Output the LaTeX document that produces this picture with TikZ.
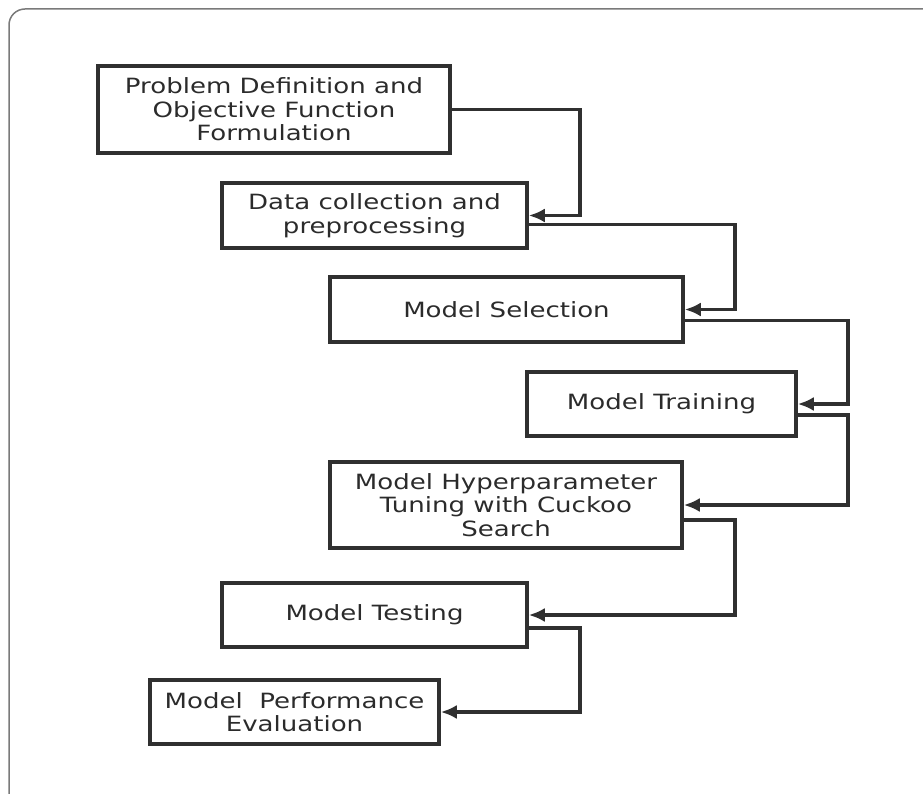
\documentclass[tikz,border=0pt]{standalone}
\usepackage{fontspec}
\setmainfont{DejaVu Sans}[FakeStretch=1.24]
\usepackage{tikz}
\usetikzlibrary{arrows.meta,positioning}
\definecolor{ink}{HTML}{303030}
\definecolor{framegray}{HTML}{7A7A7A}
\tikzstyle{stepbox} = [rectangle, draw=ink, line width=3.5pt, text=ink!90!black, text centered, align=center, inner sep=0pt, font=\fontsize{21}{23.5}\selectfont]
\tikzstyle{arrow} = [draw=ink, line width=3.5pt, -{Latex[length=16pt,width=14pt]}]

\begin{document}
\begin{tikzpicture}[x=1pt, y=-1pt]
                        \useasboundingbox (0,0) rectangle (923,794);
                        \begin{scope}
                        \clip (0,0) rectangle (923,794);
                        \draw[framegray, line width=1.5pt, rounded corners=16pt] (9,9) rectangle (945,815);
                        \end{scope}
                        % boxes
                        \node (prob) [stepbox, minimum width=352pt, minimum height=87pt] at (274,109.5) {Problem Definition and\\Objective Function\\Formulation};
                        \node (data) [stepbox, minimum width=305pt, minimum height=65pt] at (374.5,215.5) {Data collection and\\preprocessing};
                        \node (select) [stepbox, minimum width=353pt, minimum height=65pt] at (506.5,309.5) {Model Selection};
                        \node (train) [stepbox, minimum width=269pt, minimum height=64pt] at (661.5,404) {Model Training};
                        \node (tune) [stepbox, minimum width=352pt, minimum height=86pt] at (506,505) {Model Hyperparameter\\Tuning with Cuckoo\\Search};
                        \node (test) [stepbox, minimum width=305pt, minimum height=64pt] at (374.5,615) {Model Testing};
                        \node (eval) [stepbox, minimum width=289pt, minimum height=64pt] at (294.5,712) {Model~~Performance\\Evaluation};
                        % lanes and exit points
                        \coordinate (laneA) at (580,0);
                        \coordinate (laneB) at (735,0);
                        \coordinate (laneC) at (848,0);
                        \coordinate (dataout) at ([yshift=-9pt]data.east);
                        \coordinate (selectout) at ([yshift=-11pt]select.east);
                        \coordinate (trainout) at ([yshift=-11pt]train.east);
                        \coordinate (tuneout) at ([yshift=-15pt]tune.east);
                        \coordinate (testout) at ([yshift=-13pt]test.east);
                        % connectors
                        \draw[arrow] (prob.east) -- (prob.east -| laneA) |- (data.east);
                        \draw[arrow] (dataout) -- (dataout -| laneB) |- (select.east);
                        \draw[arrow] (selectout) -- (selectout -| laneC) |- (train.east);
                        \draw[arrow] (trainout) -- (trainout -| laneC) |- (tune.east);
                        \draw[arrow] (tuneout) -- (tuneout -| laneB) |- (test.east);
                        \draw[arrow] (testout) -- (testout -| laneA) |- (eval.east);
                    \end{tikzpicture}
\end{document}
